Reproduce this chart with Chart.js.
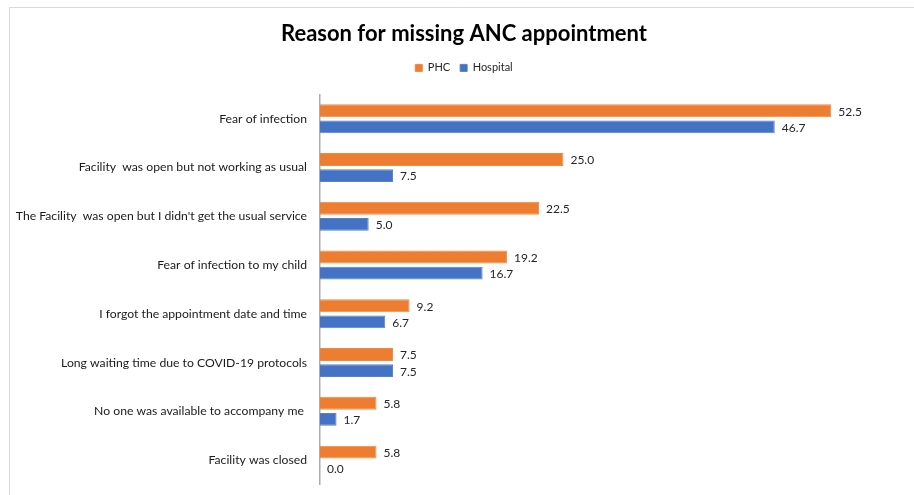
<!DOCTYPE html>
<html>
<head>
<meta charset="utf-8">
<script src="https://cdn.jsdelivr.net/npm/chart.js@4"></script>
<style>
html,body{margin:0;padding:0;background:#fff;}
#wrap{width:914px;height:495px;position:relative;}
</style>
</head>
<body>
<div id="wrap"><canvas id="c"></canvas></div>
<script>
const categories = [
  "Fear of infection",
  "Facility  was open but not working as usual",
  "The Facility  was open but I didn't get the usual service",
  "Fear of infection to my child",
  "I forgot the appointment date and time",
  "Long waiting time due to COVID-19 protocols",
  "No one was available to accompany me ",
  "Facility was closed"
];
const phcValues = [52.5, 25.0, 22.5, 19.2, 9.2, 7.5, 5.8, 5.8];
const hospitalValues = [46.7, 7.5, 5.0, 16.7, 6.7, 7.5, 1.7, 0.0];
const seriesNames = ["PHC", "Hospital"];

const FONT = "Lato, 'Open Sans', sans-serif";

const frame = {
  id: 'frame',
  beforeDraw(chart) {
    const ctx = chart.ctx;
    ctx.save();
    ctx.fillStyle = '#fff';
    ctx.fillRect(0, 0, chart.width, chart.height);
    ctx.strokeStyle = '#D9D9D9';
    ctx.lineWidth = 1;
    ctx.beginPath();
    ctx.moveTo(9.5, chart.height + 5);
    ctx.lineTo(9.5, 7.5);
    ctx.lineTo(chart.width + 5, 7.5);
    ctx.stroke();
    ctx.restore();
  }
};

const legendMargin = {
  id: 'legendMargin',
  beforeInit(chart) {
    const origFit = chart.legend.fit;
    chart.legend.fit = function () {
      origFit.bind(chart.legend)();
      this.height += 11;
    };
  }
};

const valueLabels = {
  id: 'valueLabels',
  afterDatasetsDraw(chart) {
    const ctx = chart.ctx;
    ctx.save();
    ctx.font = "12px " + FONT;
    ctx.fillStyle = '#262626';
    ctx.textAlign = 'left';
    ctx.textBaseline = 'middle';
    chart.data.datasets.forEach((ds, i) => {
      const meta = chart.getDatasetMeta(i);
      meta.data.forEach((el, j) => {
        ctx.fillText(ds.data[j].toFixed(1), el.x + 7, el.y + 1);
      });
    });
    ctx.restore();
  }
};

new Chart(document.getElementById('c'), {
  type: 'bar',
  data: {
    labels: categories,
    datasets: [
      {
        label: seriesNames[0],
        data: phcValues,
        backgroundColor: '#ED7D31',
        borderColor: '#F28A3E',
        borderWidth: 1,
        categoryPercentage: 0.66,
        barPercentage: 0.8
      },
      {
        label: seriesNames[1],
        data: hospitalValues,
        backgroundColor: '#4472C4',
        borderColor: '#5580CC',
        borderWidth: 1,
        categoryPercentage: 0.66,
        barPercentage: 0.8
      }
    ]
  },
  options: {
    indexAxis: 'y',
    responsive: true,
    maintainAspectRatio: false,
    animation: false,
    layout: { padding: { left: 14, right: 0, top: 0, bottom: 10.5 } },
    plugins: {
      title: {
        display: true,
        text: 'Reason for missing ANC appointment',
        color: '#000',
        font: { family: FONT, size: 22, weight: 'bold' },
        padding: { top: 21, bottom: 5 }
      },
      legend: {
        display: true,
        position: 'top',
        labels: {
          boxWidth: 7,
          boxHeight: 7,
          color: '#262626',
          font: { family: FONT, size: 11 },
          padding: 10
        }
      },
      tooltip: { enabled: false }
    },
    scales: {
      x: {
        display: false,
        min: 0,
        max: 61
      },
      y: {
        grid: { display: false, drawTicks: false },
        border: { display: true, color: '#ABABAB', width: 1.5 },
        ticks: {
          color: '#1a1a1a',
          font: { family: FONT, size: 12.2 },
          padding: 13,
          autoSkip: false
        },
        afterFit(scale) {
          scale.width = 306;
          scale.paddingTop = 0;
          scale.paddingBottom = 0;
        }
      }
    }
  },
  plugins: [frame, legendMargin, valueLabels]
});
</script>
</body>
</html>
